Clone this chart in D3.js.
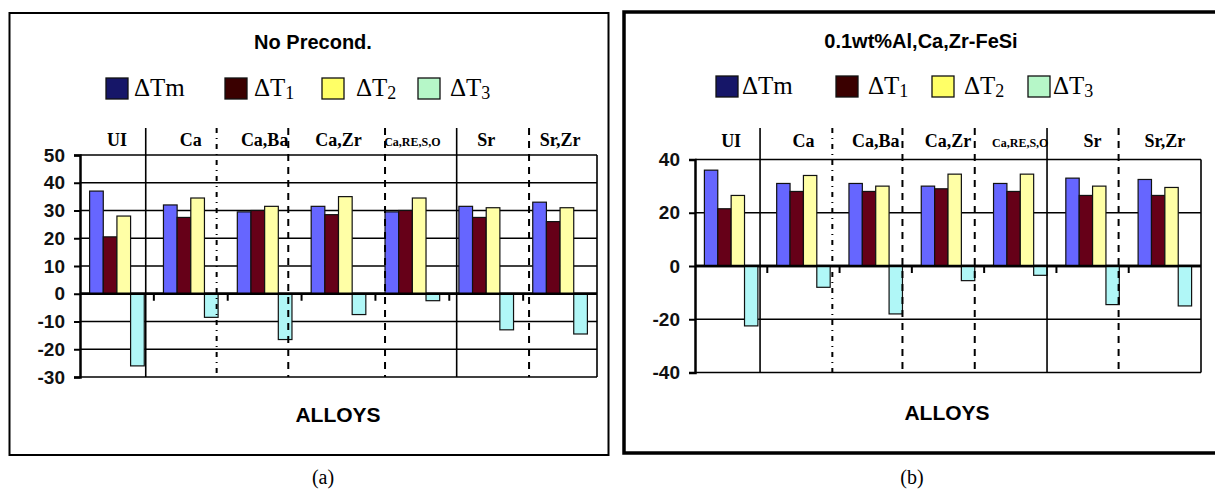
<!DOCTYPE html>
<html>
<head>
<meta charset="utf-8">
<script src="https://cdn.jsdelivr.net/npm/d3@7"></script>
<style>
  body { margin: 0; background: #fff; }
  svg { display: block; }
</style>
</head>
<body>
<svg width="1215" height="489"></svg>
<script>
// Categories and series
var alloys = ["UI", "Ca", "Ca,Ba", "Ca,Zr", "Ca,RE,S,O", "Sr", "Sr,Zr"];
var seriesKeys = ["dTm", "dT1", "dT2", "dT3"];
var seriesNames = [["\u0394Tm", ""], ["\u0394T", "1"], ["\u0394T", "2"], ["\u0394T", "3"]];

// (a) No Precond.
var aTm = [37, 32, 29.5, 31.5, 29.5, 31.5, 33];
var aT1 = [20.5, 27.5, 30, 28.5, 30, 27.5, 26];
var aT2 = [28, 34.5, 31.5, 35, 34.5, 31, 31];
var aT3 = [-26, -8.5, -16.5, -7.5, -2.5, -13, -14.5];
var aTicks = [50, 40, 30, 20, 10, 0, -10, -20, -30];
// separator lines drawn over the chart, in group units
var aSeps = [0.89, 1.85, 2.82, 4.13, 5.10, 6.08];

// (b) 0.1wt%Al,Ca,Zr-FeSi
var bTm = [36, 31, 31, 30, 31, 33, 32.5];
var bT1 = [21.5, 28, 28, 29, 28, 26.5, 26.5];
var bT2 = [26.5, 34, 30, 34.5, 34.5, 30, 29.5];
var bT3 = [-22.5, -8, -18, -5.5, -3.5, -14.5, -15];
var bTicks = [40, 20, 0, -20, -40];
var bSeps = [0.90, 1.90, 2.87, 3.87, 4.87, 5.86];

var sepStyle = ["solid", "dashdot", "dash", "dash", "solid", "dash"];

var barColor = { dTm: "#6666ff", dT1: "#660018", dT2: "#ffffa6", dT3: "#b0f7f7" };
var legColor = { dTm: "#161668", dT1: "#3a0000", dT2: "#ffff66", dT3: "#b6f7c8" };

var svg = d3.select("svg");

function drawPanel(p) {
  var g = svg.append("g");

  // outer frame
  g.append("rect")
    .attr("x", p.frame[0]).attr("y", p.frame[1])
    .attr("width", p.frame[2]).attr("height", p.frame[3])
    .attr("fill", "none").attr("stroke", "#000").attr("stroke-width", p.frameW);

  g.append("text")
    .attr("x", p.titleX).attr("y", p.titleY)
    .attr("text-anchor", "middle")
    .style("font", "bold 20px Arial, 'Liberation Sans', sans-serif")
    .text(p.title);

  // legend
  seriesKeys.forEach(function(k, i) {
    g.append("rect")
      .attr("x", p.legX[i]).attr("y", p.legY)
      .attr("width", 22).attr("height", 21)
      .attr("fill", legColor[k]).attr("stroke", "#111").attr("stroke-width", 1.3);
    var t = g.append("text")
      .attr("x", p.legX[i] + p.legGap[i]).attr("y", p.legY + 18)
      .style("font", "25px 'Times New Roman', 'Liberation Serif', serif");
    t.append("tspan").text(seriesNames[i][0]);
    if (seriesNames[i][1]) {
      t.append("tspan").attr("dy", 3).style("font-size", "18px").text(seriesNames[i][1]);
    }
  });

  var x = d3.scaleBand().domain(alloys).range([p.left, p.right]).padding(0);
  var bw = x.bandwidth();
  var xs = d3.scaleBand().domain(seriesKeys).range([bw * 0.13, bw * 0.87]).padding(0);
  var y = d3.scaleLinear().domain(p.domain).range([p.bottom, p.top]);
  var sepX = d3.scaleLinear().domain([0, alloys.length]).range([p.left, p.right]);

  // gridlines
  g.append("g").selectAll("line").data(p.ticks).enter().append("line")
    .attr("x1", p.left).attr("x2", p.right)
    .attr("y1", function(d) { return y(d); }).attr("y2", function(d) { return y(d); })
    .attr("stroke", "#000")
    .attr("stroke-width", function(d) { return d === 0 ? 2.5 : 1.6; });

  // right border of plot
  g.append("line")
    .attr("x1", p.right).attr("x2", p.right)
    .attr("y1", p.top).attr("y2", p.bottom)
    .attr("stroke", "#000").attr("stroke-width", 1.6);

  // bars
  var rows = alloys.map(function(a, i) {
    return { alloy: a, dTm: p.vals[0][i], dT1: p.vals[1][i], dT2: p.vals[2][i], dT3: p.vals[3][i] };
  });
  var grp = g.append("g").selectAll("g").data(rows).enter().append("g")
    .attr("transform", function(d) { return "translate(" + x(d.alloy) + ",0)"; });
  grp.selectAll("rect")
    .data(function(d) { return seriesKeys.map(function(k) { return { key: k, value: d[k] }; }); })
    .enter().append("rect")
    .attr("x", function(d) { return xs(d.key); })
    .attr("width", xs.bandwidth())
    .attr("y", function(d) { return y(Math.max(0, d.value)); })
    .attr("height", function(d) { return Math.abs(y(d.value) - y(0)); })
    .attr("fill", function(d) { return barColor[d.key]; })
    .attr("stroke", "#111").attr("stroke-width", 1.2);

  // zero axis drawn again over the bars
  g.append("line")
    .attr("x1", p.left).attr("x2", p.right)
    .attr("y1", y(0)).attr("y2", y(0))
    .attr("stroke", "#000").attr("stroke-width", 2.5);

  // category ticks under the zero line
  g.append("g").selectAll("line").data(alloys.slice(1)).enter().append("line")
    .attr("x1", function(d) { return x(d); }).attr("x2", function(d) { return x(d); })
    .attr("y1", y(0)).attr("y2", y(0) + 7)
    .attr("stroke", "#000").attr("stroke-width", 2);

  // y axis
  var yAxis = d3.axisLeft(y).tickValues(p.ticks).tickSize(6).tickPadding(9)
    .tickFormat(function(d) { return String(d); });
  var ya = g.append("g").attr("transform", "translate(" + p.left + ",0)").call(yAxis);
  ya.select(".domain").attr("stroke-width", 2.5);
  ya.selectAll(".tick line").attr("stroke-width", 2);
  ya.selectAll("text")
    .style("font", "bold 19px Arial, 'Liberation Sans', sans-serif")
    .attr("fill", "#111");

  // separators
  g.append("g").selectAll("line").data(p.seps).enter().append("line")
    .attr("x1", function(d) { return sepX(d); }).attr("x2", function(d) { return sepX(d); })
    .attr("y1", p.sepTop).attr("y2", p.bottom)
    .attr("stroke", "#000")
    .attr("stroke-width", function(d, i) { return sepStyle[i] === "solid" ? 1.6 : 2; })
    .attr("stroke-dasharray", function(d, i) {
      return sepStyle[i] === "solid" ? null : sepStyle[i] === "dashdot" ? "5,5,1,5" : "7,6";
    });

  // category labels
  g.append("g").selectAll("text").data(alloys).enter().append("text")
    .attr("x", function(d) { return x(d) + bw / 2; })
    .attr("y", p.catY)
    .attr("text-anchor", "middle")
    .style("font-family", "'Times New Roman', 'Liberation Serif', serif")
    .style("font-weight", "bold")
    .style("font-size", function(d) { return d.length > 6 ? "12px" : "18px"; })
    .text(function(d) { return d; });

  g.append("text")
    .attr("x", p.xTitleX).attr("y", p.xTitleY)
    .attr("text-anchor", "middle")
    .style("font", "bold 21px Arial, 'Liberation Sans', sans-serif")
    .text("ALLOYS");

  g.append("text")
    .attr("x", p.capX).attr("y", 484)
    .attr("text-anchor", "middle")
    .style("font", "20px 'Times New Roman', 'Liberation Serif', serif")
    .text(p.caption);
}

drawPanel({
  title: "No Precond.", caption: "(a)",
  frame: [9.5, 13, 599, 442], frameW: 2,
  titleX: 313, titleY: 49,
  legX: [106, 225, 322, 418], legGap: [28, 29, 34, 32], legY: 78,
  left: 80, right: 597, top: 155, bottom: 377,
  domain: [-30, 50], ticks: aTicks,
  vals: [aTm, aT1, aT2, aT3], seps: aSeps, sepTop: 128,
  catY: 146, xTitleX: 338, xTitleY: 422, capX: 323
});

drawPanel({
  title: "0.1wt%Al,Ca,Zr-FeSi", caption: "(b)",
  frame: [624, 12, 594, 441], frameW: 3.5,
  titleX: 921, titleY: 48,
  legX: [716, 836, 932, 1028], legGap: [26, 32, 32, 25], legY: 76,
  left: 695, right: 1201, top: 159.5, bottom: 372.5,
  domain: [-40, 40], ticks: bTicks,
  vals: [bTm, bT1, bT2, bT3], seps: bSeps, sepTop: 128,
  catY: 147, xTitleX: 947, xTitleY: 420, capX: 912
});
</script>
</body>
</html>
